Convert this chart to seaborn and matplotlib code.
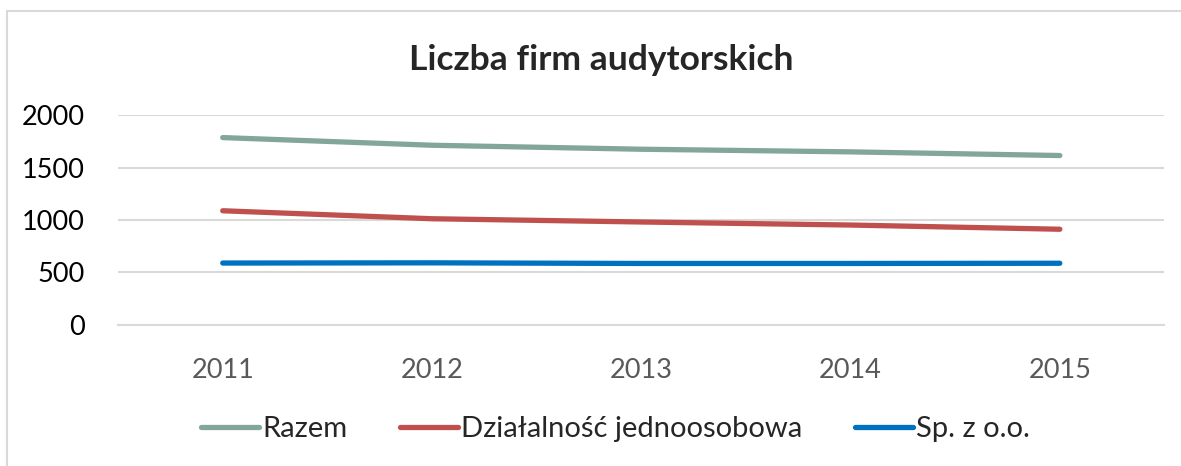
import pandas as pd
import matplotlib.pyplot as plt
import seaborn as sns
from matplotlib.lines import Line2D

# data
years = ['2011', '2012', '2013', '2014', '2015']
razem = [1785, 1712, 1674, 1649, 1614]
jednoosobowa = [1088, 1012, 981, 952, 912]
spzoo = [590, 592, 586, 586, 588]
series_names = ['Razem', 'Działalność jednoosobowa', 'Sp. z o.o.']
colors = ['#82A69C', '#C0504D', '#0070C0']

df = pd.DataFrame({'Rok': years, 'Razem': razem,
                   'Działalność jednoosobowa': jednoosobowa, 'Sp. z o.o.': spzoo})
long_df = df.melt(id_vars='Rok', var_name='Seria', value_name='Liczba')

sns.set_style('white')
plt.rcParams['font.family'] = ['Lato', 'DejaVu Sans']

fig = plt.figure(figsize=(11.81, 4.66), dpi=100)
ax = fig.add_axes([0.1, 0.3026, 0.886, 0.4506])

sns.lineplot(data=long_df, x='Rok', y='Liczba', hue='Seria', hue_order=series_names,
             palette=colors, linewidth=3.8, solid_capstyle='round', ax=ax, legend=False)

ax.set_xlim(-0.5, 4.5)
ax.set_ylim(0, 2000)
ax.set_yticks([0, 500, 1000, 1500, 2000])
ax.yaxis.grid(True, color='#D9D9D9', linewidth=1.5)
ax.set_axisbelow(True)
for s in ['top', 'right', 'left']:
    ax.spines[s].set_visible(False)
ax.spines['bottom'].set_color('#D9D9D9')
ax.spines['bottom'].set_linewidth(1.5)
ax.tick_params(axis='both', length=0, labelsize=19.5)
ax.tick_params(axis='x', colors='#595959', pad=24)
ax.tick_params(axis='y', labelcolor='black', pad=24)
ax.set_xlabel('')
ax.set_ylabel('')

fig.text(0.509, 0.872, 'Liczba firm audytorskich', ha='center', va='center',
         fontsize=25.5, fontweight='bold')

handles = [Line2D([0], [0], color=c, linewidth=3.8, solid_capstyle='round') for c in colors]
fig.legend(handles, series_names, loc='center', bbox_to_anchor=(0.521, 0.08), ncol=3,
           frameon=False, fontsize=21, handlelength=2.0, handletextpad=0.1,
           columnspacing=1.8)

# chart border (partially visible)
fig.add_artist(Line2D([7 / 1181, 7 / 1181], [0, 1 - 11 / 466], color='#D9D9D9', linewidth=1.5))
fig.add_artist(Line2D([7 / 1181, 1], [1 - 11 / 466, 1 - 11 / 466], color='#D9D9D9', linewidth=1.5))

fig.savefig('out.png', dpi=100)
